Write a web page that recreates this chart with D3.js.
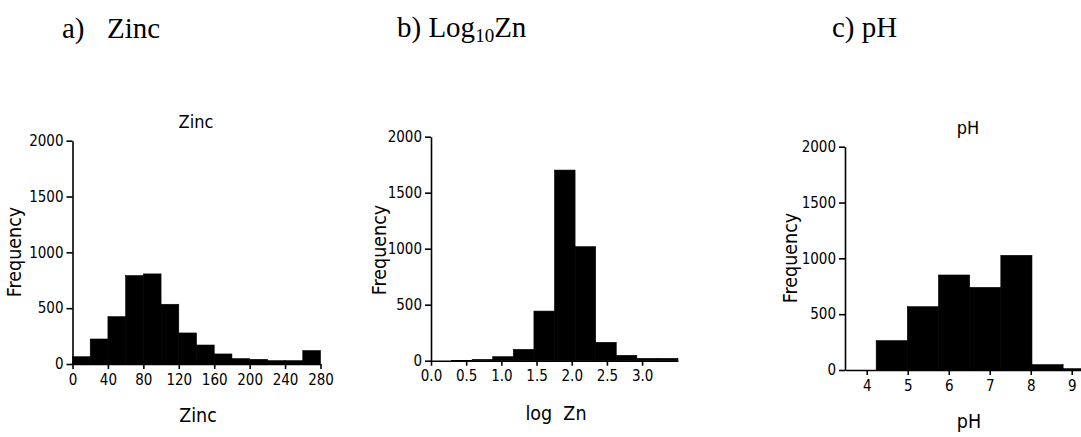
<!DOCTYPE html>
<html>
<head>
<meta charset="utf-8">
<script src="https://cdn.jsdelivr.net/npm/d3@7"></script>
<style>
  body { margin: 0; background: #fff; }
  svg { display: block; }
  .axis text { font-family: 'DejaVu Sans Condensed', 'Liberation Sans Narrow', sans-serif; font-size: 15px; fill: #000; }
  .axis path, .axis line { stroke: #000; stroke-width: 1.6; }
  .lbl { font-family: 'DejaVu Sans Condensed', 'Liberation Sans Narrow', sans-serif; fill: #000; white-space: pre; }
  .head { font-family: 'Liberation Serif', 'Times New Roman', serif; font-size: 29px; fill: #000; }
</style>
</head>
<body>
<svg class="canvas" width="1081" height="437"></svg>
<script>
// panel a - zinc (mg/kg), bins of 20
const zincEdges = [0, 20, 40, 60, 80, 100, 120, 140, 160, 180, 200, 220, 240, 260, 280];
const zincFreq = [65, 224, 424, 792, 807, 535, 278, 170, 90, 48, 42, 30, 30, 120];
const zincTicks = [0, 40, 80, 120, 160, 200, 240, 280];

// panel b - log10 zinc
const logEdges = [0, 0.2925, 0.585, 0.8775, 1.17, 1.4625, 1.755, 2.0475, 2.34, 2.6325, 2.925, 3.2175, 3.51];
const logFreq = [0, 2, 12, 36, 101, 443, 1702, 1018, 164, 48, 21, 21];
const logTicks = [0, 0.5, 1.0, 1.5, 2.0, 2.5, 3.0];

// panel c - pH
const phEdges = [3.47, 4.23, 4.99, 5.75, 6.51, 7.27, 8.03, 8.79, 9.55];
const phFreq = [0, 263, 567, 851, 740, 1027, 48, 12];
const phTicks = [4, 5, 6, 7, 8, 9];

const freqTicks = [0, 500, 1000, 1500, 2000];

const svg = d3.select('.canvas');

var drawHist = (opt) => {
  const x = d3.scaleLinear().domain(opt.xDomain).range(opt.xRange);
  const y = d3.scaleLinear().domain([0, 2000]).range(opt.yRange);
  const g = svg.append('g');

  const bins = opt.freq.map((f, i) => ({ x0: opt.edges[i], x1: opt.edges[i + 1], f: f }));

  g.selectAll('rect')
    .data(bins)
    .enter()
    .append('rect')
      .attr('x', d => x(d.x0))
      .attr('width', d => x(d.x1) - x(d.x0))
      .attr('y', d => y(d.f))
      .attr('height', d => y(0) - y(d.f))
      .attr('fill', '#000')
      .attr('stroke', '#000')
      .attr('stroke-width', 0.6);

  const xAxis = d3.axisBottom(x)
    .tickValues(opt.ticks)
    .tickFormat(opt.fmt)
    .tickSizeInner(5)
    .tickSizeOuter(0)
    .tickPadding(5);
  g.append('g')
    .attr('class', 'axis')
    .attr('transform', `translate(0, ${y(0)})`)
    .call(xAxis);

  const yAxis = d3.axisLeft(y)
    .tickValues(freqTicks)
    .tickFormat(d3.format('d'))
    .tickSizeInner(6)
    .tickSizeOuter(0)
    .tickPadding(3);
  g.append('g')
    .attr('class', 'axis')
    .attr('transform', `translate(${opt.xRange[0]}, 0)`)
    .call(yAxis);

  g.append('text')
    .attr('class', 'lbl')
    .attr('font-size', 19.5)
    .attr('text-anchor', 'middle')
    .attr('transform', `translate(${opt.freqX}, ${opt.freqY}) rotate(-90)`)
    .text('Frequency');

  g.append('text')
    .attr('class', 'lbl')
    .attr('font-size', 19.5)
    .attr('text-anchor', 'middle')
    .attr('x', opt.xLabX)
    .attr('y', opt.xLabY)
    .text(opt.xLabel);

  if (opt.title) {
    g.append('text')
      .attr('class', 'lbl')
      .attr('font-size', 18)
      .attr('text-anchor', 'middle')
      .attr('x', opt.titleX)
      .attr('y', opt.titleY)
      .text(opt.title);
  }
}

drawHist({
  edges: zincEdges, freq: zincFreq, ticks: zincTicks, fmt: d3.format('d'),
  xDomain: [0, 280], xRange: [72.5, 320.5], yRange: [364, 140.7],
  freqX: 21, freqY: 252, xLabel: 'Zinc', xLabX: 198, xLabY: 422,
  title: 'Zinc', titleX: 196, titleY: 128
})

drawHist({
  edges: logEdges, freq: logFreq, ticks: logTicks, fmt: d3.format('.1f'),
  xDomain: [0, 3.51], xRange: [431, 678], yRange: [360.7, 136.7],
  freqX: 386, freqY: 250, xLabel: 'log  Zn', xLabX: 556, xLabY: 420
})

drawHist({
  edges: phEdges, freq: phFreq, ticks: phTicks, fmt: d3.format('d'),
  xDomain: [3.47, 9.55], xRange: [845, 1094.3], yRange: [370, 146.7],
  freqX: 797, freqY: 258, xLabel: 'pH', xLabX: 969, xLabY: 428,
  title: 'pH', titleX: 968, titleY: 134
})

// panel headings
const heads = svg.append('g').attr('class', 'head');
heads.append('text').attr('x', 62).attr('y', 38).text('a)');
heads.append('text').attr('x', 107).attr('y', 38).text('Zinc');
const hb = heads.append('text').attr('x', 397).attr('y', 37);
hb.append('tspan').text('b) Log');
hb.append('tspan').attr('font-size', 19).attr('dy', 5).text('10');
hb.append('tspan').attr('dy', -5).text('Zn');
heads.append('text').attr('x', 832).attr('y', 37).text('c) pH');
</script>
</body>
</html>
